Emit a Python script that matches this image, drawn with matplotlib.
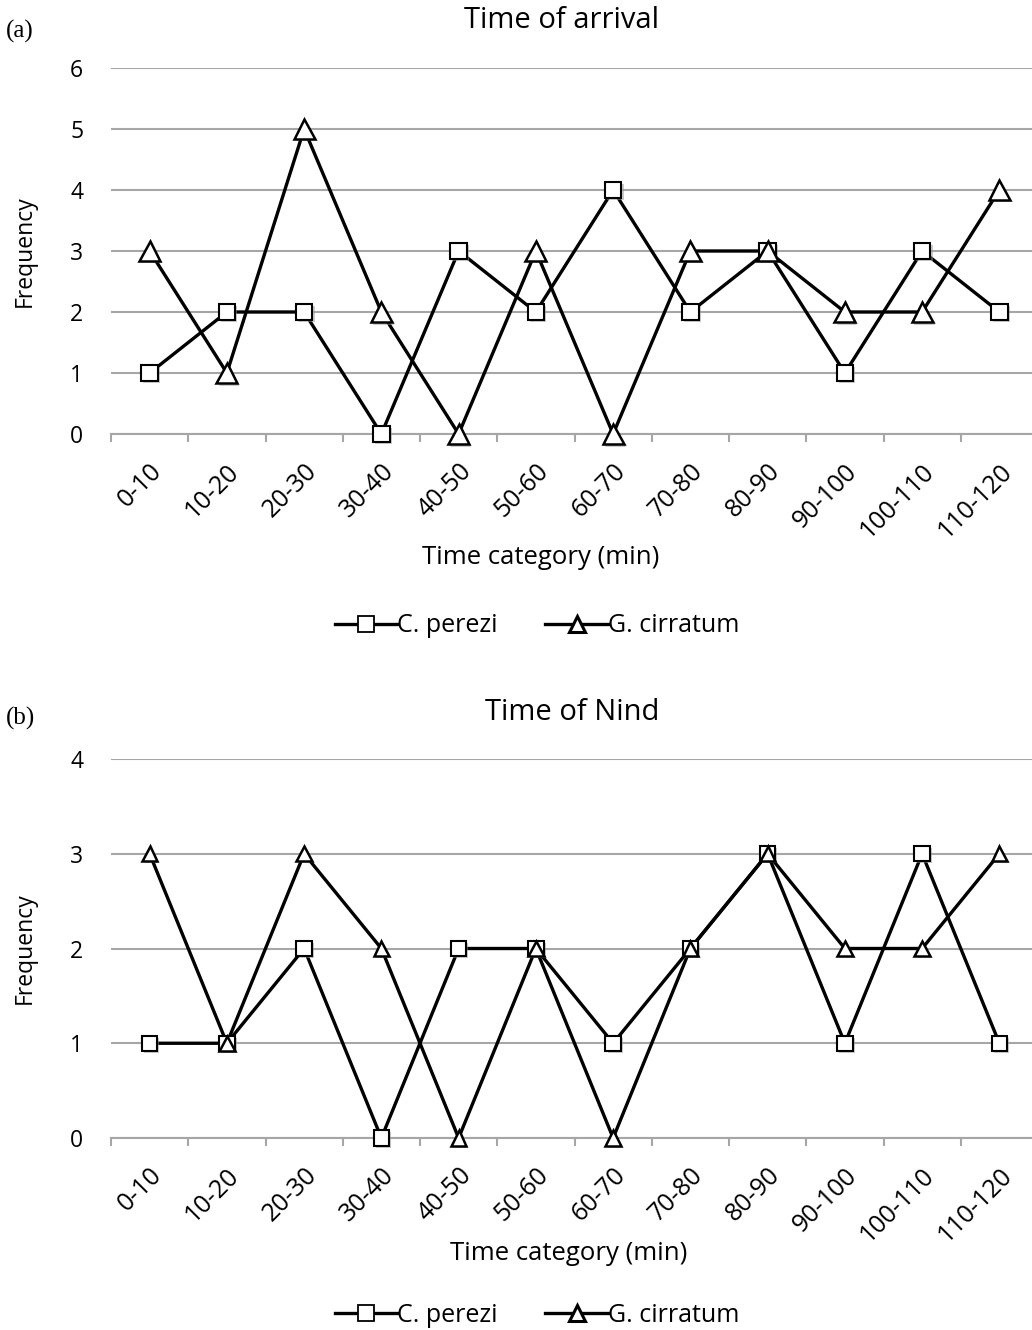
import matplotlib
matplotlib.use('Agg')
import matplotlib.pyplot as plt
import matplotlib.patheffects as pe
from matplotlib.lines import Line2D

categories = ['0-10', '10-20', '20-30', '30-40', '40-50', '50-60',
              '60-70', '70-80', '80-90', '90-100', '100-110', '110-120']

# (a) time of arrival
arrival_perezi = [1, 2, 2, 0, 3, 2, 4, 2, 3, 1, 3, 2]
arrival_cirratum = [3, 1, 5, 2, 0, 3, 0, 3, 3, 2, 2, 4]

# (b) time of Nind
nind_perezi = [1, 1, 2, 0, 2, 2, 1, 2, 3, 1, 3, 1]
nind_cirratum = [3, 1, 3, 2, 0, 2, 0, 2, 3, 2, 2, 3]

plt.rcParams['font.family'] = ['Open Sans', 'DejaVu Sans']

W, H = 1032, 1330
fig = plt.figure(figsize=(W / 100, H / 100), dpi=100)

GRID = '#a6a6a6'
shadow = [pe.SimplePatchShadow(offset=(1.5, -1.5), shadow_rgbFace='#999999', alpha=0.5), pe.Normal()]


def box(l, t, r, b):
    return [l / W, 1 - b / H, (r - l) / W, (b - t) / H]


def px(x, y):
    return x / W, 1 - y / H


def panel(ax, perezi, cirratum, ymax, tri_size, sq_size):
    x = list(range(len(categories)))
    # lines first, then markers on top with a soft drop shadow
    ax.plot(x, perezi, color='black', lw=2.4, zorder=3)
    ax.plot(x, cirratum, color='black', lw=2.4, zorder=3)
    ax.plot(x, perezi, ls='none', marker='s', ms=sq_size, clip_on=False,
            mfc='white', mec='black', mew=1.5, zorder=4, path_effects=shadow)
    ax.plot(x, cirratum, ls='none', marker='^', ms=tri_size, clip_on=False,
            mfc='white', mec='black', mew=1.8, zorder=5, path_effects=shadow)
    ax.set_xlim(-0.5, len(categories) - 0.5)
    ax.set_ylim(0, ymax)
    ax.set_yticks(range(ymax + 1))
    ax.yaxis.grid(True, color=GRID, lw=1.5)
    ax.set_axisbelow(True)
    for s in ['top', 'right', 'left']:
        ax.spines[s].set_visible(False)
    ax.spines['bottom'].set_color(GRID)
    ax.spines['bottom'].set_linewidth(1.5)
    ax.set_xticks(x)
    ax.set_xticklabels(categories, rotation=45, ha='right', rotation_mode='anchor', fontsize=18)
    ax.set_xticks([i - 0.5 for i in range(len(categories) + 1)], minor=True)
    ax.tick_params(axis='x', which='major', length=0, pad=18)
    ax.tick_params(axis='x', which='minor', length=6, width=1.5, color=GRID)
    ax.tick_params(axis='y', length=0, labelsize=16.5, pad=20)
    ax.set_ylabel('Frequency', fontsize=16.5, labelpad=24)


ax1 = fig.add_axes(box(111, 68, 1038, 434))
panel(ax1, arrival_perezi, arrival_cirratum, 6, 15, 12)

ax2 = fig.add_axes(box(111, 759, 1038, 1138))
panel(ax2, nind_perezi, nind_cirratum, 4, 11, 11)

fig.text(*px(561, 21), 'Time of arrival', ha='center', va='center', fontsize=21)
fig.text(*px(572, 713), 'Time of Nind', ha='center', va='center', fontsize=21)
fig.text(*px(541, 558), 'Time category (min)', ha='center', va='center', fontsize=18.5)
fig.text(*px(569, 1253), 'Time category (min)', ha='center', va='center', fontsize=18.5)

fig.text(*px(6, 31), '(a)', family='Liberation Serif', fontsize=18, va='center')
fig.text(*px(6, 718), '(b)', family='Liberation Serif', fontsize=18, va='center')

h_sq = Line2D([], [], color='black', lw=2.4, marker='s', ms=12, mfc='white', mec='black', mew=1.3)
h_tri = Line2D([], [], color='black', lw=2.4, marker='^', ms=12, mfc='white', mec='black', mew=2.2)
for yc in (626, 1315):
    fig.legend([h_sq, h_tri], ['C. perezi', 'G. cirratum'], loc='center',
               bbox_to_anchor=px(537, yc), ncol=2, frameon=False,
               fontsize=18, handlelength=2.5, handletextpad=0.0, columnspacing=1.9)

fig.savefig('out.png', dpi=100)
